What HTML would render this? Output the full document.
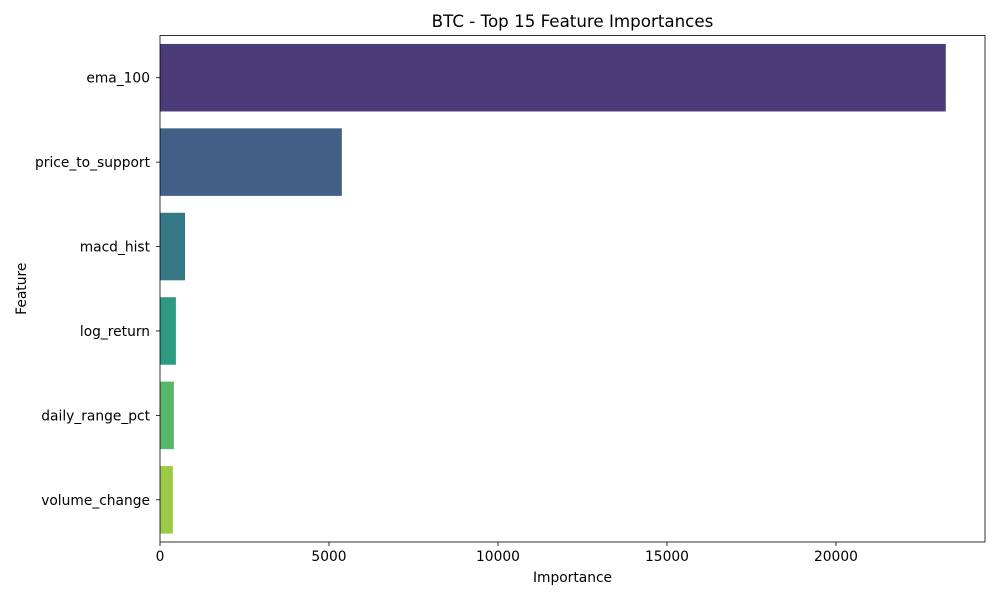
<!DOCTYPE html>
<html><head><meta charset="utf-8"><style>
body{margin:0;background:#fff;font-family:"Liberation Sans","DejaVu Sans",sans-serif;}
svg text{font-family:"DejaVu Sans","Liberation Sans",sans-serif;}
</style></head><body>
<svg id="chart" width="1000" height="600"></svg>
<script>
const categories=["ema_100","price_to_support","macd_hist","log_return","daily_range_pct","volume_change"];
const values=[23250,5380,740,470,410,380];
const colors=["#4a3c78","#415f87","#357885","#2d9a82","#56b76b","#9bca46"];
const ticks=[0,5000,10000,15000,20000];
const tickLabels=["0","5000","10000","15000","20000"];
const L=160,R=985,T=35.5,B=542,xMax=24410;
const svg=document.getElementById('chart');
const NS="http://www.w3.org/2000/svg";
function x(v){return L+(R-L)*v/xMax;}
const band=(B-T)/categories.length;
function y(i){return T+band*i;}
function mk(tag,attrs,txt){const e=document.createElementNS(NS,tag);for(const k in attrs)e.setAttribute(k,attrs[k]);if(txt!==undefined)e.textContent=txt;svg.appendChild(e);return e;}
categories.forEach((c,i)=>{
 const r=mk('rect',{x:x(0),y:y(i)+band*0.1,width:x(values[i])-x(0),height:band*0.8,fill:colors[i]});
 
 
 const cy=y(i)+band/2;
 const tk=mk('line',{x1:L-4,x2:L,y1:cy,y2:cy,stroke:'#000','stroke-width':0.8});
 
 
 const t=mk('text',{x:L-10,y:cy+5,'text-anchor':'end','font-size':13.8},c);
 
 
});
ticks.forEach((v,i)=>{
 const tk=mk('line',{x1:x(v),x2:x(v),y1:B,y2:B+4,stroke:'#000','stroke-width':0.8});
 
 
 const t=mk('text',{x:x(v),y:B+19,'text-anchor':'middle','font-size':13.8},tickLabels[i]);
 
 
});
const fr=mk('rect',{x:L,y:T,width:R-L,height:B-T,fill:'none',stroke:'#000','stroke-width':0.8});


const ti=mk('text',{x:(L+R)/2,y:27,'text-anchor':'middle','font-size':16.7},'BTC - Top 15 Feature Importances');


const xt=mk('text',{x:(L+R)/2,y:582,'text-anchor':'middle','font-size':13.8},'Importance');


const yt=mk('text',{x:26,y:(T+B)/2,'text-anchor':'middle','font-size':13.8,transform:'rotate(-90 26 '+((T+B)/2)+')'},'Feature');


</script>
</body></html>
